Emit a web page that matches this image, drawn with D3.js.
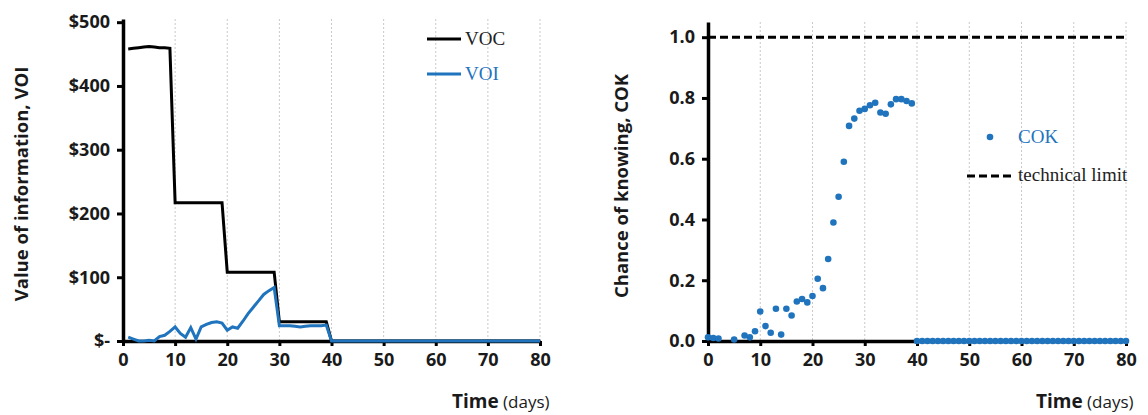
<!DOCTYPE html>
<html>
<head>
<meta charset="utf-8">
<title>VOI and COK</title>
<script src="https://cdn.jsdelivr.net/npm/d3@7"></script>
<style>
  body { margin: 0; background: #fff; }
  .tick text { font-family: "Open Sans", sans-serif; font-weight: bold; font-size: 18px; fill: #1a1a1a; }
  .ttl { font-family: "Open Sans", sans-serif; font-weight: bold; font-size: 18.5px; fill: #1a1a1a; }
  .leg { font-family: "Liberation Serif", serif; font-size: 19px; }
</style>
</head>
<body>
<svg width="1148" height="415"></svg>
<script>
// left chart: value of clairvoyance / value of information, days 1..80
var vocValues = [458, 459, 460, 461, 462, 461, 460, 460, 459,
  217, 217, 217, 217, 217, 217, 217, 217, 217, 217,
  108, 108, 108, 108, 108, 108, 108, 108, 108, 108,
  30, 30, 30, 30, 30, 30, 30, 30, 30, 30,
  0, 0, 0, 0, 0, 0, 0, 0, 0, 0, 0, 0, 0, 0, 0, 0, 0, 0, 0, 0,
  0, 0, 0, 0, 0, 0, 0, 0, 0, 0, 0, 0, 0, 0, 0, 0, 0, 0, 0, 0, 0];
var voiValues = [6, 3, 0, 0, 1, 0, 7, 9, 15,
  22, 12, 6, 21, 3, 22, 26, 29, 30, 28,
  17, 22, 20, 31, 43, 53, 63, 73, 79, 84,
  24, 24, 24, 23, 22, 23, 24, 24, 24, 25,
  0, 0, 0, 0, 0, 0, 0, 0, 0, 0, 0, 0, 0, 0, 0, 0, 0, 0, 0, 0,
  0, 0, 0, 0, 0, 0, 0, 0, 0, 0, 0, 0, 0, 0, 0, 0, 0, 0, 0, 0, 0];

// right chart: chance of knowing
var cokDays = [0, 1, 2, 5, 7, 8, 9, 10, 11, 12, 13, 14, 15, 16, 17, 18, 19, 20,
  21, 22, 23, 24, 25, 26, 27, 28, 29, 30, 31, 32, 33, 34, 35, 36, 37, 38, 39,
  40, 41, 42, 43, 44, 45, 46, 47, 48, 49, 50, 51, 52, 53, 54, 55, 56, 57, 58, 59,
  60, 61, 62, 63, 64, 65, 66, 67, 68, 69, 70, 71, 72, 73, 74, 75, 76, 77, 78, 79, 80];
var cokValues = [0.012, 0.010, 0.008, 0.005, 0.018, 0.012, 0.032, 0.097, 0.049, 0.027,
  0.106, 0.021, 0.106, 0.084, 0.130, 0.138, 0.127, 0.148,
  0.205, 0.174, 0.270, 0.390, 0.475, 0.590, 0.708, 0.732, 0.758, 0.764, 0.776, 0.784,
  0.752, 0.748, 0.779, 0.796, 0.796, 0.790, 0.782,
  0, 0, 0, 0, 0, 0, 0, 0, 0, 0, 0, 0, 0, 0, 0, 0, 0, 0, 0, 0,
  0, 0, 0, 0, 0, 0, 0, 0, 0, 0, 0, 0, 0, 0, 0, 0, 0, 0, 0, 0, 0];
var technicalLimit = 1.0;

var xTicks = [0, 10, 20, 30, 40, 50, 60, 70, 80];
var voiTicks = [0, 100, 200, 300, 400, 500];
var cokTicks = [0, 0.2, 0.4, 0.6, 0.8, 1.0];

var blue = "#1f74bd";
var svg = d3.select("svg");
svg.append("rect").attr("width", 1148).attr("height", 415).attr("fill", "#fff");

function frame(x, y, yTicks, yFmt) {
  var g = svg.append("g");
  // dotted vertical grid
  g.selectAll("line.grid").data(xTicks.slice(1)).enter().append("line")
    .attr("x1", d => x(d)).attr("x2", d => x(d))
    .attr("y1", y.range()[1]).attr("y2", y.range()[0])
    .attr("stroke", "#c9c9c9").attr("stroke-width", 1).attr("stroke-dasharray", "2,2");
  var ya = g.append("g").attr("transform", "translate(" + x(0) + ",0)")
    .call(d3.axisLeft(y).tickValues(yTicks).tickFormat(yFmt).tickSize(6).tickSizeOuter(0).tickPadding(7));
  var xa = g.append("g").attr("transform", "translate(0," + y(0) + ")")
    .call(d3.axisBottom(x).tickValues(xTicks).tickSize(5).tickSizeOuter(0).tickPadding(7));
  [ya, xa].forEach(function(a) {
    a.select(".domain").attr("stroke", "#000").attr("stroke-width", 3.5);
    a.selectAll(".tick line").attr("stroke", "#000").attr("stroke-width", 3);
  });
  return {g: g, xa: xa, ya: ya};
}

// ---------- left chart
var x1 = d3.scaleLinear().domain([0, 80]).range([123, 540]);
var y1 = d3.scaleLinear().domain([0, 505]).range([341, 19]);
var f1 = frame(x1, y1, voiTicks, d => d === 0 ? "$-" : "$" + d);

var line1 = d3.line().x((d, i) => x1(i + 1)).y(d => y1(d));
svg.append("path").datum(vocValues).attr("d", line1)
  .attr("fill", "none").attr("stroke", "#000").attr("stroke-width", 3);
svg.append("path").datum(voiValues).attr("d", line1)
  .attr("fill", "none").attr("stroke", blue).attr("stroke-width", 3);

svg.append("line").attr("x1", 427).attr("x2", 461).attr("y1", 39).attr("y2", 39)
  .attr("stroke", "#000").attr("stroke-width", 3);
svg.append("text").attr("class", "leg").attr("x", 465).attr("y", 45).attr("fill", "#222").text("VOC");
svg.append("line").attr("x1", 427).attr("x2", 461).attr("y1", 74).attr("y2", 74)
  .attr("stroke", blue).attr("stroke-width", 3);
svg.append("text").attr("class", "leg").attr("x", 465).attr("y", 80).attr("fill", blue).text("VOI");

svg.append("text").attr("class", "ttl")
  .attr("transform", "translate(28,184) rotate(-90)").attr("text-anchor", "middle")
  .text("Value of information, VOI");

// ---------- right chart
var x2 = d3.scaleLinear().domain([0, 80]).range([708, 1126]);
var y2 = d3.scaleLinear().domain([0, 1.05]).range([341, 22]);
var f2 = frame(x2, y2, cokTicks, d3.format(".1f"));

svg.append("line").attr("x1", x2(0)).attr("x2", x2(80))
  .attr("y1", y2(technicalLimit)).attr("y2", y2(technicalLimit))
  .attr("stroke", "#000").attr("stroke-width", 3).attr("stroke-dasharray", "8,4");

svg.append("g").selectAll("circle").data(cokValues).enter().append("circle")
  .attr("cx", (d, i) => x2(cokDays[i])).attr("cy", d => y2(d))
  .attr("r", 3.3).attr("fill", blue);

svg.append("circle").attr("cx", 990).attr("cy", 137).attr("r", 3.3).attr("fill", blue);
svg.append("text").attr("class", "leg").attr("x", 1018).attr("y", 143).attr("fill", blue).text("COK");
svg.append("line").attr("x1", 967).attr("x2", 1015).attr("y1", 176).attr("y2", 176)
  .attr("stroke", "#000").attr("stroke-width", 3).attr("stroke-dasharray", "8,4");
svg.append("text").attr("class", "leg").attr("x", 1018).attr("y", 181).attr("fill", "#222").text("technical limit");

svg.append("text").attr("class", "ttl")
  .attr("transform", "translate(628,186) rotate(-90)").attr("text-anchor", "middle")
  .text("Chance of knowing, COK");

// x titles
[[452, 408], [1036, 408]].forEach(function(p) {
  var t = svg.append("text").attr("x", p[0]).attr("y", p[1])
    .style("font-family", "'Open Sans', sans-serif").attr("fill", "#1a1a1a");
  t.append("tspan").style("font-weight", "bold").style("font-size", "19px").text("Time");
  t.append("tspan").style("font-size", "17px").text(" (days)");
});
</script>
</body>
</html>
